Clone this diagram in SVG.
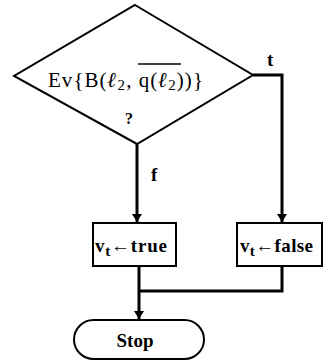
<svg xmlns="http://www.w3.org/2000/svg" width="329" height="361" viewBox="0 0 329 361">
<style>
.sh{fill:#fff;stroke:#000;stroke-width:2}
.ln{fill:none;stroke:#000;stroke-width:3}
text{font-family:"Liberation Serif","DejaVu Serif",serif;fill:#000}
.lb{font-size:19px;font-weight:bold}
</style>
<defs>
<marker id="ah" viewBox="0 0 8 12" refX="8" refY="6" markerWidth="8" markerHeight="12" markerUnits="userSpaceOnUse" orient="auto">
<path d="M0,1 L8,6 L0,11 Z" fill="#000"/>
</marker>
</defs>
<g id="connectors">
<path class="ln" d="M137,144 V222" marker-end="url(#ah)"/>
<path class="ln" d="M253,75 H282 V222" marker-end="url(#ah)"/>
<path class="ln" d="M139,266 V319" marker-end="url(#ah)"/>
<path class="ln" d="M282,266 V291 H139"/>
<text x="267" y="66" class="lb" font-size="18">t</text>
<text x="151" y="181" class="lb" font-size="18">f</text>
</g>
<g id="decision">
<polygon class="sh" points="135,5 253,75 137,144 14,76"/>
<text x="48" y="87" font-size="21" textLength="155" lengthAdjust="spacing">Ev{B(<tspan font-style="italic" font-weight="bold">ℓ</tspan><tspan font-size="15" dy="3">2</tspan><tspan dy="-3">, q(</tspan><tspan font-style="italic" font-weight="bold">ℓ</tspan><tspan font-size="15" dy="3">2</tspan><tspan dy="-3">))}</tspan></text>
<line x1="138" y1="64" x2="181" y2="64" stroke="#000" stroke-width="1.5"/>
<text x="125" y="124" font-size="16" font-weight="bold">?</text>
</g>
<g id="assign-true">
<rect class="sh" x="93" y="223" width="83" height="43"/>
<text x="95" y="252" class="lb" textLength="72" lengthAdjust="spacing">v<tspan font-size="15" dy="4">t</tspan><tspan dy="-4">←true</tspan></text>
</g>
<g id="assign-false">
<rect class="sh" x="237" y="223" width="85" height="43"/>
<text x="240" y="252" class="lb" textLength="73" lengthAdjust="spacing">v<tspan font-size="15" dy="4">t</tspan><tspan dy="-4">←false</tspan></text>
</g>
<g id="stop">
<rect class="sh" x="74" y="320" width="130" height="39" rx="19.5"/>
<text x="135" y="347" class="lb" text-anchor="middle">Stop</text>
</g>
</svg>
